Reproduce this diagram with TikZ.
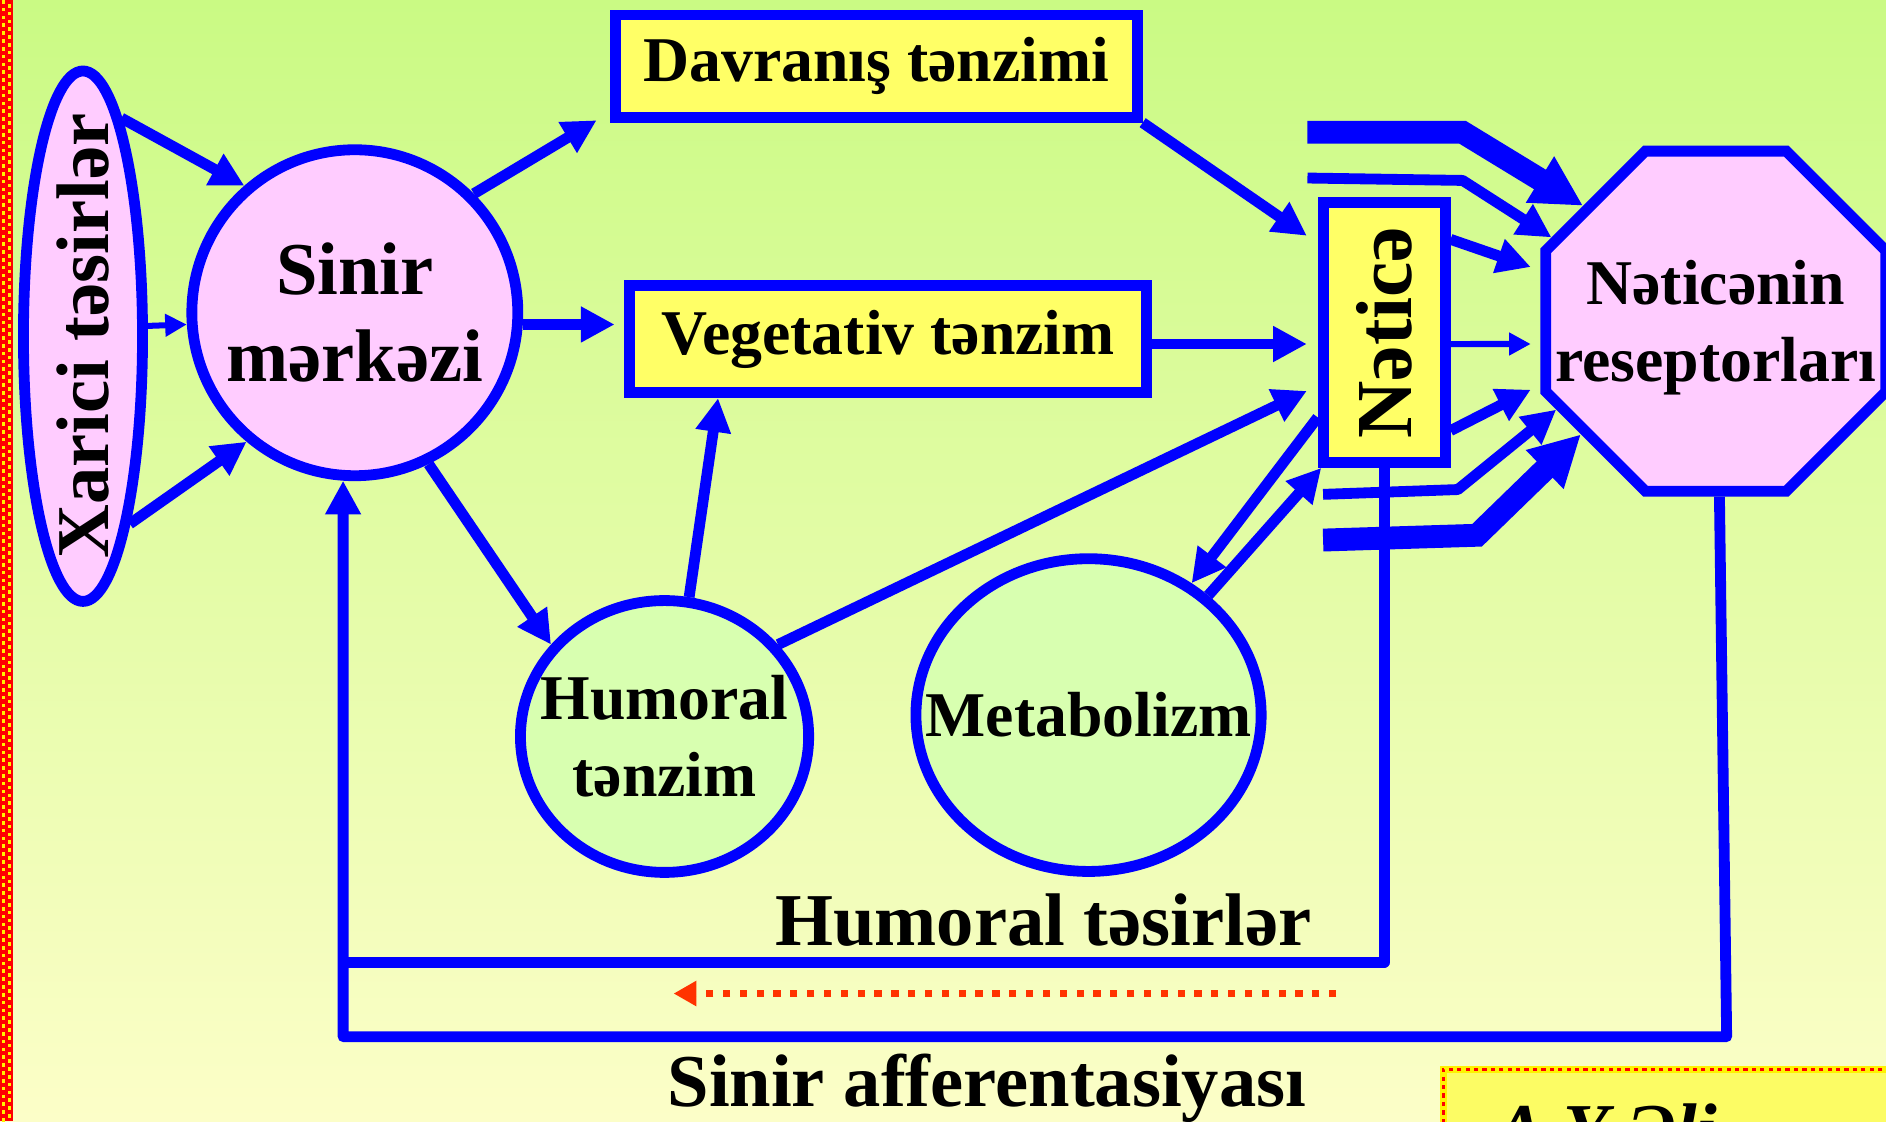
\documentclass[tikz,border=0pt]{standalone}
\usepackage{fontspec}
\setmainfont{Liberation Serif}
\usetikzlibrary{arrows.meta,shapes.geometric}

\definecolor{lineblue}{RGB}{0,0,255}
\definecolor{nodepink}{RGB}{255,204,255}
\definecolor{nodegreen}{RGB}{216,255,176}
\definecolor{boxyellow}{RGB}{255,255,102}
\definecolor{bgtop}{RGB}{202,250,132}
\definecolor{bgbottom}{RGB}{252,254,200}
\definecolor{dotred}{RGB}{255,51,0}
\definecolor{edgered}{RGB}{255,0,0}
\definecolor{signyellow}{RGB}{252,252,100}

\newcommand{\diagbig}{\fontsize{62}{72}\selectfont\bfseries}
\newcommand{\diagmid}{\fontsize{53}{64}\selectfont\bfseries}

\begin{document}
\begin{tikzpicture}[x=1pt, y=1pt,
    mainline/.style={draw=lineblue, line width=9pt, line join=round},
    conn/.style={mainline, -{Triangle[length=28pt,width=28pt]}},
    thinconn/.style={draw=lineblue, line width=5pt, -{Triangle[length=18pt,width=18pt]}},
    thickconn/.style={draw=lineblue, line width=19pt, -{Triangle[length=42pt,width=42pt]}},
    dotarrow/.style={draw=dotred, line width=6pt, dash pattern=on 6pt off 8pt, -{Triangle[length=19pt,width=20pt]}},
    pinknode/.style={draw=lineblue, line width=9pt, fill=nodepink, inner sep=0pt},
    greennode/.style={ellipse, draw=lineblue, line width=9pt, fill=nodegreen, inner sep=0pt, font=\diagmid, align=center},
    yellowbox/.style={rectangle, draw=lineblue, line width=9pt, fill=boxyellow, inner sep=0pt, font=\diagmid},
    signbox/.style={draw=yellow, line width=6pt, fill=signyellow,
        postaction={draw=edgered, line width=2.5pt, dash pattern=on 3.5pt off 3.5pt},
        text width=560pt, align=left, inner xsep=43pt, inner ysep=29pt, font=\diagbig\itshape}]

    \useasboundingbox (0,0) rectangle (1568,-932);
    \clip (0,0) rectangle (1568,-932);
    \shade[top color=bgtop, bottom color=bgbottom] (0,0) rectangle (1568,-932);

    % left edge strip
    \fill[edgered] (0,0) rectangle (11,-932);
    \foreach \k in {0,...,143}{
        \fill[yellow] (1.5,-\k*6.5) rectangle ++(3,-3);
        \fill[yellow] (6.5,-\k*6.5-3.25) rectangle ++(3,-3);
    }

    \node[pinknode, ellipse, minimum width=99pt, minimum height=441pt, font=\diagbig] (xarici) at (69,-279.5)
        {\rotatebox{90}{\makebox[0pt]{Xarici təsirlər}}};
    \node[pinknode, circle, minimum size=271pt, font=\diagbig, align=center] (sinir) at (295,-260) {Sinir\\mərkəzi};
    \node[yellowbox, minimum width=434pt, minimum height=85pt] (davranis) at (728.5,-55) {Davranış tənzimi};
    \node[yellowbox, minimum width=430pt, minimum height=89pt] (vegetativ) at (738.5,-282) {Vegetativ tənzim};
    \node[yellowbox, minimum width=101.5pt, minimum height=216pt, font=\fontsize{66}{72}\selectfont\bfseries]
        (netice) at (1150.75,-276.5) {\rotatebox{90}{Nəticə}};
    \node[greennode, minimum width=239.6pt, minimum height=226pt, inner xsep=-35pt] (humoral) at (552.5,-612.3) {Humoral\\tənzim};
    \node[greennode, minimum width=287pt, minimum height=260pt, inner xsep=-40pt] (metabolizm) at (905,-594.5) {Metabolizm};
    \node[pinknode, regular polygon, regular polygon sides=8, minimum size=306pt, inner xsep=-70pt, inner ysep=-20pt,
        text depth=0pt, font=\diagmid, align=center] (receptor) at (1426.5,-267) {Nəticənin\\reseptorları};

    % into the centre
    \draw[conn] (xarici.80) -- (sinir.131);
    \draw[thinconn] (xarici.9) -- (sinir.184);
    \draw[conn] (xarici.-76) -- (sinir.230);

    % out of the centre
    \draw[conn] (sinir.45) -- ([shift={(-11pt,2pt)}]davranis.south west);
    \draw[conn, shorten >=8pt] (sinir.-4) -- (sinir.-4 -| vegetativ.west);
    \draw[conn] (sinir.-64) -- (humoral.141);
    \draw[conn] (humoral.80) -- ([xshift=78pt]vegetativ.south west);

    % to the result
    \draw[conn] (davranis.south east) -- ([shift={(-9pt,-32pt)}]netice.north west);
    \draw[conn, shorten >=9pt] ([yshift=-4pt]vegetativ.east) -- ([yshift=-4pt]vegetativ.east -| netice.west);
    \draw[conn] (humoral.39) -- ([shift={(-9pt,64pt)}]netice.south west);
    \draw[conn] ([yshift=42pt]netice.south west) -- (metabolizm.52);
    \draw[conn] (metabolizm.45) -- ([xshift=3pt]netice.south west);

    % to the receptors
    \coordinate (topin) at (1087,-110);
    \coordinate (secin) at (1087,-148);
    \coordinate (lowin) at (1100,-411);
    \coordinate (botin) at (1100,-449);
    \draw[thickconn] (topin) -- ++(129,0) -- (receptor.139);
    \draw[conn] (secin) -- ++(129,-2) -- (receptor.153);
    \draw[conn] ([yshift=-35pt]netice.north east) -- ([shift={(-8pt,45pt)}]receptor.west);
    \draw[thinconn] ([yshift=-9.5pt]netice.east) -- ([shift={(-8pt,-19pt)}]receptor.west);
    \draw[conn] ([yshift=31pt]netice.south east) -- ([shift={(-8pt,-57pt)}]receptor.west);
    \draw[conn] (lowin) -- ++(112,4) -- (receptor.209);
    \draw[thickconn] (botin) -- ++(128,4) -- (receptor.220);

    % feedback
    \draw[conn] ([xshift=3pt]receptor.south) -- ++(6,-449) coordinate (afferent)
        -- (afferent -| sinir.266) -- (sinir.266);
    \draw[mainline] (netice.south) -- ++(0,-411) coordinate (humback) -- (humback -| sinir.266);

    \coordinate (dotstart) at (1111,-826);
    \coordinate (dotend) at (560,-826);
    \draw[dotarrow] (dotstart) -- (dotend);

    \node[font=\diagbig, anchor=base] (humtext) at (867.5,-786) {Humoral təsirlər};
    \node[font=\diagbig, anchor=base] (afftext) at (820.5,-920) {Sinir afferentasiyası};

    \node[signbox, anchor=north west] (author) at (1197,-886) {A.Y.Əli};
\end{tikzpicture}
\end{document}
